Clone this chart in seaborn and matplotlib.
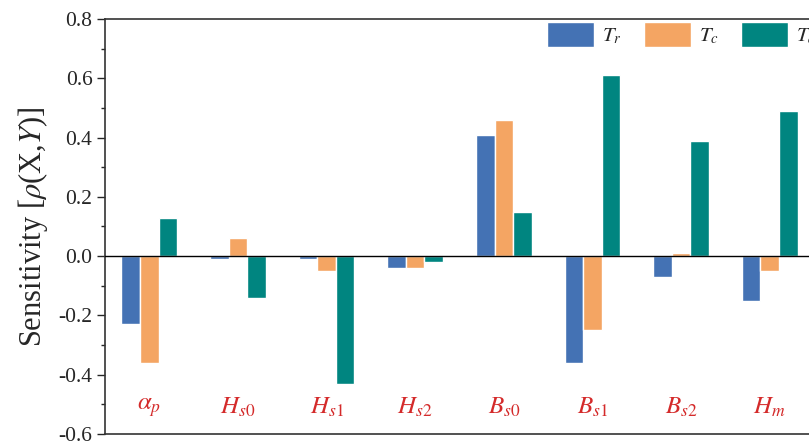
import pandas as pd
import matplotlib.pyplot as plt
import seaborn as sns

# parametros y sensibilidades
parametros = [r'$\alpha_p$', r'$H_{\mathit{s0}}$', r'$H_{\mathit{s1}}$', r'$H_{\mathit{s2}}$',
              r'$B_{\mathit{s0}}$', r'$B_{\mathit{s1}}$', r'$B_{\mathit{s2}}$', r'$H_m$']
series = [r'$T_r$', r'$T_c$', r'$T_d$']
tr = [-0.23, -0.01, -0.01, -0.04, 0.41, -0.36, -0.07, -0.15]
tc = [-0.36, 0.06, -0.05, -0.04, 0.46, -0.25, 0.01, -0.05]
td = [0.13, -0.14, -0.43, -0.02, 0.15, 0.61, 0.39, 0.49]
colores = ['#4472B4', '#F4A563', '#008580']

datos = pd.DataFrame({
    'param': parametros * 3,
    'serie': [series[0]] * 8 + [series[1]] * 8 + [series[2]] * 8,
    'valor': tr + tc + td,
})

sns.set_style('ticks')
plt.rcParams['font.family'] = ['Liberation Serif', 'DejaVu Serif']
plt.rcParams['mathtext.fontset'] = 'stix'

fig = plt.figure(figsize=(8.09, 4.44), dpi=100)
ax = fig.add_axes([105 / 809, 10 / 444, 709 / 809, 415 / 444])

sns.barplot(data=datos, x='param', y='valor', hue='serie', order=parametros,
            hue_order=series, palette=colores, width=0.63, saturation=1,
            ax=ax)

ax.axhline(0, color='black', lw=1.0, zorder=5)
ax.set_xlim(-0.5, 7.5)
ax.set_ylim(-0.6, 0.8)
ax.set_yticks([-0.6, -0.4, -0.2, 0.0, 0.2, 0.4, 0.6, 0.8])
ax.set_yticklabels(['%.1f' % v for v in ax.get_yticks()], fontsize=15.5)
ax.set_yticks([-0.5, -0.3, -0.1, 0.1, 0.3, 0.5, 0.7], minor=True)
ax.tick_params(axis='y', which='major', length=6, width=1, direction='out', pad=3)
ax.tick_params(axis='y', which='minor', length=3, width=1, direction='out')
ax.set_xticks([])
ax.set_xlabel('')
ax.set_ylabel(r'Sensitivity [$\rho$(X,$Y$)]', fontsize=22, labelpad=6)
for lado in ['top', 'bottom', 'left', 'right']:
    ax.spines[lado].set_visible(True)
    ax.spines[lado].set_linewidth(1.2)
    ax.spines[lado].set_color('#333333')

for i, p in enumerate(parametros):
    ax.text(i, -0.51, p, color='#D42A2A', fontsize=18, ha='center',
            va='center')

ax.legend(loc='upper left', bbox_to_anchor=(547 / 809, 1 - 22 / 444),
          bbox_transform=fig.transFigure, ncol=3, frameon=False,
          fontsize=15, handlelength=2.25, handleheight=1.5,
          handletextpad=0.4, columnspacing=1.05, borderaxespad=0,
          borderpad=0)

fig.savefig('out.png', dpi=100)
